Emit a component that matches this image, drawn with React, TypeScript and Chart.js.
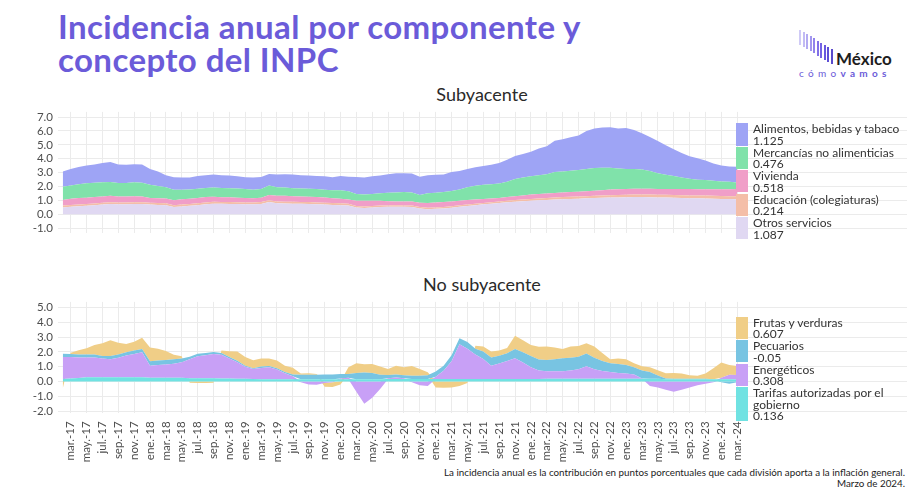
import React, { useEffect, useRef } from 'react';
import { Chart, registerables } from 'chart.js';

Chart.register(...registerables);

const FONT = 'Lato, "Open Sans", sans-serif';

// ---------- periods (feb-17 .. mar-24) ----------
const MONTH_ABBR = ['ene.', 'feb.', 'mar.', 'abr.', 'may.', 'jun.', 'jul.', 'ago.', 'sep.', 'oct.', 'nov.', 'dic.'];
const START_MONTH = 1; // feb
const START_YEAR = 17;
const N_PERIODS = 86;
const PERIODS: string[] = [];
for (let k = 0; k < N_PERIODS; k++) {
  const m = (START_MONTH + k) % 12;
  const y = START_YEAR + Math.floor((START_MONTH + k) / 12);
  PERIODS.push(`${MONTH_ABBR[m]}-${y}`);
}
// ticks every two months starting at mar.-17
const TICK_INDEX: number[] = [];
for (let k = 1; k < N_PERIODS; k += 2) TICK_INDEX.push(k);

// ---------- Subyacente ----------
const ALIMENTOS = [
  1.10, 1.18, 1.24, 1.29, 1.31, 1.40, 1.44, 1.34, 1.32, 1.31,
  1.31, 1.14, 1.05, 0.87, 0.90, 0.88, 0.86, 0.92, 0.92, 0.94,
  0.92, 0.92, 0.88, 0.85, 0.88, 0.87, 0.83, 0.92, 0.95, 0.99,
  0.96, 0.96, 0.94, 0.97, 0.94, 1.03, 1.05, 1.22, 1.23, 1.27,
  1.29, 1.34, 1.37, 1.35, 1.35, 1.31, 1.31, 1.29, 1.27, 1.36,
  1.32, 1.31, 1.33, 1.36, 1.40, 1.49, 1.58, 1.66, 1.70, 1.77,
  1.91, 2.01, 2.26, 2.31, 2.41, 2.48, 2.74, 2.84, 2.89, 2.91,
  2.87, 2.96, 2.80, 2.62, 2.45, 2.32, 2.13, 1.92, 1.77, 1.62,
  1.54, 1.40, 1.24, 1.16, 1.10, 1.125,
];
const MERCANCIAS = [
  0.96, 0.96, 0.99, 1.03, 1.03, 1.01, 0.99, 0.96, 0.96, 0.99,
  0.99, 0.94, 0.88, 0.81, 0.76, 0.68, 0.67, 0.66, 0.65, 0.66,
  0.67, 0.65, 0.66, 0.64, 0.61, 0.62, 0.68, 0.62, 0.60, 0.57,
  0.57, 0.57, 0.57, 0.56, 0.57, 0.61, 0.59, 0.49, 0.44, 0.49,
  0.53, 0.60, 0.66, 0.68, 0.66, 0.57, 0.70, 0.70, 0.72, 0.75,
  0.81, 0.92, 0.99, 1.01, 1.03, 1.03, 1.10, 1.24, 1.29, 1.32,
  1.36, 1.39, 1.50, 1.52, 1.53, 1.56, 1.60, 1.63, 1.61, 1.57,
  1.50, 1.43, 1.42, 1.38, 1.27, 1.12, 1.01, 0.94, 0.83, 0.74,
  0.68, 0.67, 0.61, 0.55, 0.53, 0.476,
];
const VIVIENDA = [
  0.40, 0.45, 0.47, 0.46, 0.47, 0.46, 0.46, 0.43, 0.43, 0.44,
  0.42, 0.35, 0.35, 0.35, 0.35, 0.39, 0.38, 0.39, 0.40, 0.37,
  0.34, 0.35, 0.33, 0.32, 0.31, 0.32, 0.39, 0.40, 0.42, 0.41,
  0.40, 0.39, 0.40, 0.38, 0.35, 0.33, 0.31, 0.38, 0.42, 0.38,
  0.35, 0.31, 0.27, 0.28, 0.29, 0.31, 0.34, 0.35, 0.36, 0.35,
  0.33, 0.33, 0.31, 0.29, 0.27, 0.25, 0.26, 0.27, 0.29, 0.31,
  0.32, 0.32, 0.33, 0.33, 0.34, 0.34, 0.35, 0.36, 0.38, 0.40,
  0.40, 0.42, 0.42, 0.41, 0.42, 0.42, 0.42, 0.43, 0.45, 0.46,
  0.46, 0.45, 0.47, 0.49, 0.50, 0.518,
];
const EDUCACION = [
  0.13, 0.13, 0.13, 0.13, 0.13, 0.13, 0.13, 0.13, 0.13, 0.13,
  0.13, 0.13, 0.13, 0.13, 0.13, 0.13, 0.13, 0.13, 0.13, 0.13,
  0.13, 0.13, 0.13, 0.13, 0.13, 0.13, 0.13, 0.13, 0.13, 0.13,
  0.13, 0.13, 0.13, 0.13, 0.13, 0.13, 0.13, 0.10, 0.10, 0.10,
  0.10, 0.10, 0.10, 0.10, 0.10, 0.10, 0.10, 0.10, 0.10, 0.10,
  0.10, 0.10, 0.10, 0.10, 0.10, 0.11, 0.11, 0.12, 0.12, 0.13,
  0.13, 0.14, 0.14, 0.15, 0.15, 0.16, 0.16, 0.17, 0.17, 0.17,
  0.18, 0.18, 0.18, 0.19, 0.19, 0.19, 0.20, 0.20, 0.20, 0.20,
  0.20, 0.21, 0.21, 0.21, 0.21, 0.214,
];
const OTROS_SERVICIOS = [
  0.50, 0.54, 0.58, 0.61, 0.65, 0.70, 0.74, 0.73, 0.73, 0.74,
  0.74, 0.70, 0.68, 0.66, 0.53, 0.57, 0.61, 0.66, 0.72, 0.77,
  0.76, 0.75, 0.74, 0.73, 0.72, 0.75, 0.88, 0.80, 0.78, 0.77,
  0.76, 0.75, 0.72, 0.70, 0.68, 0.66, 0.63, 0.50, 0.46, 0.50,
  0.53, 0.54, 0.55, 0.54, 0.53, 0.42, 0.37, 0.40, 0.42, 0.48,
  0.55, 0.60, 0.66, 0.72, 0.77, 0.82, 0.87, 0.91, 0.95, 0.98,
  1.01, 1.04, 1.07, 1.09, 1.11, 1.13, 1.15, 1.17, 1.19, 1.21,
  1.22, 1.23, 1.24, 1.24, 1.23, 1.22, 1.21, 1.19, 1.17, 1.16,
  1.15, 1.14, 1.12, 1.11, 1.10, 1.087,
];

// ---------- No subyacente ----------
const FRUTAS = [
  -0.47, 0.10, 0.30, 0.43, 0.65, 0.86, 1.07, 0.80, 0.56, 0.58,
  0.77, 0.92, 0.79, 0.61, 0.30, 0.16, -0.08, -0.10, -0.10, -0.08,
  0.17, 0.39, 0.63, 0.58, 0.53, 0.55, 0.52, 0.53, 0.43, 0.45,
  0.08, 0.10, 0.05, -0.25, -0.32, -0.20, 0.45, 0.65, 0.55, 0.60,
  0.55, 0.40, 0.60, 0.55, 0.65, 0.45, 0.20, -0.40, -0.42, -0.40,
  -0.30, -0.10, 0.20, 0.35, 0.40, 0.35, 0.35, 0.90, 0.82, 0.75,
  0.86, 0.90, 0.80, 0.62, 0.75, 0.73, 0.69, 0.75, 0.54, 0.26,
  0.37, 0.38, 0.27, 0.28, 0.33, 0.36, 0.34, 0.40, 0.35, 0.25,
  0.21, 0.36, 0.74, 1.03, 0.66, 0.607,
];
const PECUARIOS = [
  0.22, 0.20, 0.20, 0.20, 0.20, 0.17, 0.22, 0.22, 0.22, 0.25,
  0.22, 0.30, 0.30, 0.30, 0.30, 0.25, 0.18, 0.17, 0.15, 0.14,
  0.12, 0.10, 0.10, 0.07, 0.05, 0.10, 0.08, 0.08, 0.08, 0.12,
  0.30, 0.30, 0.30, 0.32, 0.32, 0.30, 0.25, 0.42, 0.45, 0.42,
  0.30, 0.22, 0.20, 0.20, 0.22, 0.22, 0.25, 0.35, 0.35, 0.40,
  0.40, 0.45, 0.40, 0.50, 0.55, 0.52, 0.52, 0.62, 0.68, 0.75,
  0.75, 0.77, 0.81, 0.88, 0.86, 0.85, 0.86, 0.79, 0.68, 0.60,
  0.60, 0.58, 0.50, 0.55, 0.46, 0.22, 0.05, 0.02, 0.03, 0.02,
  0.02, 0.02, 0.00, -0.05, -0.15, -0.05,
];
const ENERGETICOS = [
  1.48, 1.45, 1.38, 1.34, 1.34, 1.27, 1.22, 1.32, 1.47, 1.57,
  1.69, 0.81, 0.86, 0.89, 0.94, 1.05, 1.28, 1.48, 1.56, 1.63,
  1.59, 1.35, 1.11, 0.82, 0.68, 0.75, 0.80, 0.65, 0.40, 0.20,
  -0.05, -0.20, -0.22, -0.10, -0.05, 0.05, 0.10, -0.70, -1.50, -1.10,
  -0.50, 0.05, 0.10, 0.05, -0.05, -0.25, -0.30, 0.15, 0.55, 1.20,
  2.35, 2.05, 1.65, 1.35, 0.90, 1.05, 1.22, 1.40, 1.12, 0.80,
  0.57, 0.51, 0.51, 0.51, 0.57, 0.64, 0.85, 0.64, 0.53, 0.46,
  0.40, 0.36, 0.29, 0.02, -0.30, -0.40, -0.55, -0.70, -0.55, -0.40,
  -0.25, -0.15, -0.05, 0.10, 0.30, 0.308,
];
const TARIFAS = [
  0.17, 0.20, 0.24, 0.28, 0.28, 0.28, 0.28, 0.28, 0.28, 0.28,
  0.28, 0.26, 0.26, 0.26, 0.26, 0.25, 0.22, 0.22, 0.22, 0.22,
  0.21, 0.20, 0.19, 0.18, 0.17, 0.16, 0.16, 0.16, 0.16, 0.16,
  0.16, 0.16, 0.16, 0.16, 0.16, 0.16, 0.16, 0.16, 0.16, 0.16,
  0.16, 0.17, 0.17, 0.17, 0.17, 0.17, 0.17, 0.17, 0.17, 0.17,
  0.17, 0.17, 0.17, 0.17, 0.17, 0.17, 0.17, 0.17, 0.17, 0.17,
  0.17, 0.18, 0.18, 0.18, 0.18, 0.18, 0.18, 0.18, 0.18, 0.18,
  0.18, 0.18, 0.18, 0.18, 0.18, 0.18, 0.16, 0.16, 0.16, 0.16,
  0.16, 0.16, 0.16, 0.16, 0.16, 0.136,
];

type Series = { name: string; values: number[]; color: string };

// stacking order: bottom -> top
const CORE: Series[] = [
  { name: 'Otros servicios', values: OTROS_SERVICIOS, color: '#e0d8f2' },
  { name: 'Educación (colegiaturas)', values: EDUCACION, color: '#f4bea8' },
  { name: 'Vivienda', values: VIVIENDA, color: '#f09ec8' },
  { name: 'Mercancías no alimenticias', values: MERCANCIAS, color: '#80e2aa' },
  { name: 'Alimentos, bebidas y tabaco', values: ALIMENTOS, color: '#9ea4f5' },
];
const NONCORE: Series[] = [
  { name: 'Tarifas autorizadas por el\ngobierno', values: TARIFAS, color: '#70e2e2' },
  { name: 'Energéticos', values: ENERGETICOS, color: '#c8a0f6' },
  { name: 'Pecuarios', values: PECUARIOS, color: '#78c4e2' },
  { name: 'Frutas y verduras', values: FRUTAS, color: '#f0ce87' },
];

const X_MIN = -0.6;
const X_MAX = 106.4;
const GRID = '#ebebeb';
const TICK_COLOR = '#4d4d4d';

function pts(arr: number[]) {
  return arr.map((y, x) => ({ x, y }));
}

// positive and negative values stacked separately (ribbons)
function stackBySign(series: Series[]) {
  const n = series[0].values.length;
  const pos = new Array(n).fill(0);
  const neg = new Array(n).fill(0);
  return series.map((s) => {
    const lo: number[] = [];
    const hi: number[] = [];
    s.values.forEach((v, i) => {
      if (v >= 0) {
        lo.push(pos[i]);
        hi.push(pos[i] + v);
        pos[i] += v;
      } else {
        hi.push(neg[i]);
        lo.push(neg[i] + v);
        neg[i] += v;
      }
    });
    return { lo, hi };
  });
}

function xScale(showLabels: boolean) {
  return {
    type: 'linear' as const,
    min: X_MIN,
    max: X_MAX,
    grid: { color: GRID, drawTicks: false, lineWidth: 1 },
    border: { display: false },
    afterBuildTicks: (s: any) => {
      s.ticks = TICK_INDEX.map((v) => ({ value: v }));
    },
    afterFit: (s: any) => {
      s.height = showLabels ? 50 : 0;
    },
    ticks: {
      display: showLabels,
      autoSkip: false,
      minRotation: 90,
      maxRotation: 90,
      padding: 8,
      color: TICK_COLOR,
      font: { family: FONT, size: 11.5 },
      callback: (v: any) => PERIODS[Number(v)],
    },
  };
}

function yScale(min: number, max: number, stacked: boolean) {
  return {
    stacked,
    min,
    max,
    grid: { color: GRID, drawTicks: false, lineWidth: 1 },
    border: { display: false },
    afterFit: (s: any) => {
      s.width = 58;
    },
    ticks: {
      stepSize: 1,
      includeBounds: false,
      autoSkip: false,
      padding: 5,
      color: TICK_COLOR,
      font: { family: FONT, size: 11.5 },
      callback: (v: any) => Number(v).toFixed(1),
    },
  };
}

const commonPlugins = {
  legend: { display: false },
  tooltip: { enabled: false },
  title: { display: false },
};

function coreConfig(): any {
  return {
    type: 'line',
    data: {
      datasets: CORE.map((s, k) => ({
        label: s.name,
        data: pts(s.values),
        fill: k === 0 ? 'origin' : '-1',
        backgroundColor: s.color,
        borderColor: 'rgba(0,0,0,0)',
        borderWidth: 0,
        pointRadius: 0,
        tension: 0,
      })),
    },
    options: {
      responsive: false,
      animation: false,
      devicePixelRatio: 1,
      layout: { padding: { left: 0, right: 1, top: 6.7, bottom: 5.7 } },
      plugins: commonPlugins,
      scales: { x: xScale(false), y: yScale(-1.35, 7.37, true) },
    },
  };
}

function noncoreConfig(): any {
  const ribbons = stackBySign(NONCORE);
  const datasets: any[] = [];
  NONCORE.forEach((s, k) => {
    datasets.push({
      label: s.name + ' (base)',
      data: pts(ribbons[k].lo),
      fill: false,
      borderColor: 'rgba(0,0,0,0)',
      borderWidth: 0,
      pointRadius: 0,
      tension: 0,
    });
    datasets.push({
      label: s.name,
      data: pts(ribbons[k].hi),
      fill: '-1',
      backgroundColor: s.color,
      borderColor: 'rgba(0,0,0,0)',
      borderWidth: 0,
      pointRadius: 0,
      tension: 0,
    });
  });
  return {
    type: 'line',
    data: { datasets },
    options: {
      responsive: false,
      animation: false,
      devicePixelRatio: 1,
      layout: { padding: { left: 0, right: 1, top: 6.7, bottom: 1.7 } },
      plugins: commonPlugins,
      scales: { x: xScale(true), y: yScale(-2.15, 5.38, false) },
    },
  };
}

function ChartCanvas({ make, top, height }: { make: () => any; top: number; height: number }) {
  const ref = useRef<HTMLCanvasElement>(null);
  useEffect(() => {
    const chart = new Chart(ref.current as HTMLCanvasElement, make());
    return () => chart.destroy();
  }, []);
  return (
    <canvas
      ref={ref}
      width={908}
      height={height}
      style={{ position: 'absolute', left: 0, top, width: 908, height, display: 'block' }}
    />
  );
}

function Legend({ series, top }: { series: Series[]; top: number }) {
  const LINE = 11.7;
  let y = top;
  const items = series.map((s) => {
    const lines = [...s.name.split('\n'), String(s.values[s.values.length - 1])];
    const h = lines.length * LINE;
    const el = (
      <div key={s.name} style={{ position: 'absolute', left: 736, top: y, height: h }}>
        <div style={{ position: 'absolute', left: 0, top: 0, width: 12.3, height: h - 1, background: s.color }} />
        <div
          style={{
            position: 'absolute',
            left: 17,
            top: 0,
            whiteSpace: 'nowrap',
            font: `12px ${FONT}`,
            lineHeight: `${LINE}px`,
            color: '#333',
          }}
        >
          {lines.map((t, i) => (
            <div key={i}>{t}</div>
          ))}
        </div>
      </div>
    );
    y += h;
    return el;
  });
  return <>{items}</>;
}

function Logo() {
  const bars = [0, 1, 2, 3, 4, 5, 6, 7, 8, 9];
  const colors = ['#cfcaf6', '#c2bbf4', '#b3aaf2', '#a397ef', '#9283ec', '#8170e8', '#7463e4', '#6857de', '#5e4fd6', '#5a4acb'];
  return (
    <div style={{ position: 'absolute', left: 0, top: 0 }}>
      {bars.map((k) => (
        <div
          key={k}
          style={{
            position: 'absolute',
            left: 799 + k * 3.5,
            top: 30 + k * 2.1,
            width: 2.2,
            height: 15,
            background: colors[k],
          }}
        />
      ))}
      <div style={{ position: 'absolute', left: 836, top: 50, font: `bold 17px ${FONT}`, color: '#1e1e1e', lineHeight: '18px' }}>
        México
      </div>
      <div
        style={{
          position: 'absolute',
          left: 799,
          top: 68,
          font: `10px ${FONT}`,
          letterSpacing: '4.3px',
          color: '#6b5bd9',
          lineHeight: '11px',
          whiteSpace: 'nowrap',
        }}
      >
        cómo<b>vamos</b>
      </div>
    </div>
  );
}

export default function App() {
  const coreLegend = [...CORE].reverse();
  const noncoreLegend = [...NONCORE].reverse();
  return (
    <div
      style={{
        position: 'absolute',
        left: 0,
        top: 0,
        width: 908,
        height: 487,
        background: '#ffffff',
        overflow: 'hidden',
        fontFamily: FONT,
      }}
    >
      <div
        style={{
          position: 'absolute',
          left: 58,
          top: 10,
          font: `bold 33px ${FONT}`,
          letterSpacing: '0.4px',
          lineHeight: '33px',
          color: '#6b5bd9',
          width: 660,
        }}
      >
        Incidencia anual por componente y<br />
        concepto del INPC
      </div>
      <Logo />
      <div style={{ position: 'absolute', left: 57, width: 850, top: 84.7, textAlign: 'center', font: `18px ${FONT}`, lineHeight: '18px', color: '#2a2a2a' }}>
        Subyacente
      </div>
      <div style={{ position: 'absolute', left: 57, width: 850, top: 274.7, textAlign: 'center', font: `18px ${FONT}`, lineHeight: '18px', color: '#2a2a2a' }}>
        No subyacente
      </div>
      <ChartCanvas make={coreConfig} top={100} height={145} />
      <ChartCanvas make={noncoreConfig} top={290} height={175} />
      <Legend series={coreLegend} top={123.3} />
      <Legend series={noncoreLegend} top={316.7} />
      <div
        style={{
          position: 'absolute',
          right: 3,
          top: 466.5,
          textAlign: 'right',
          font: `9.8px ${FONT}`,
          lineHeight: '11px',
          color: '#222',
          whiteSpace: 'nowrap',
        }}
      >
        La incidencia anual es la contribución en puntos porcentuales que cada división aporta a la inflación general.
        <br />
        Marzo de 2024.
      </div>
    </div>
  );
}
